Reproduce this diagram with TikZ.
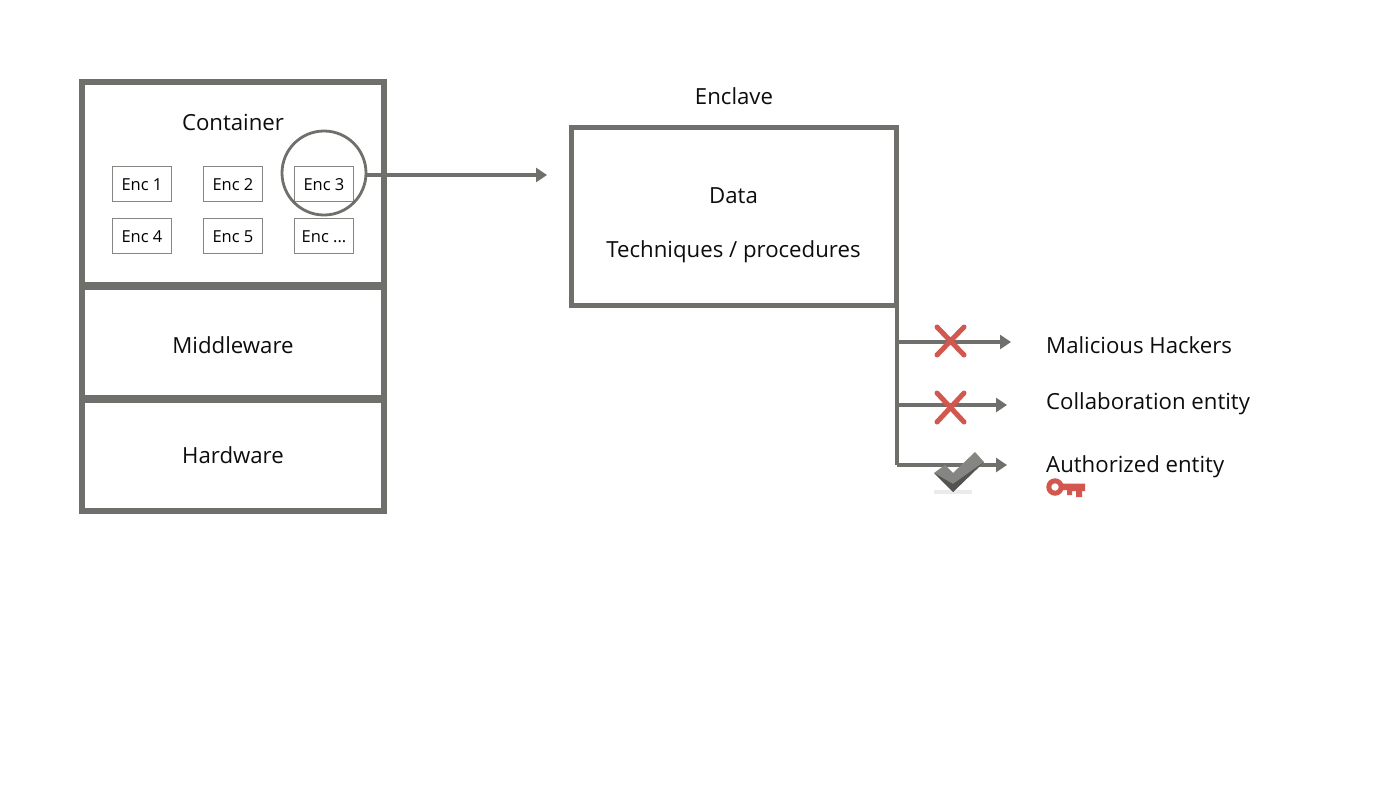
\documentclass[tikz,border=0pt]{standalone}
\usepackage{fontspec}
\setmainfont{Open Sans}
\usetikzlibrary{arrows.meta,positioning}
\definecolor{frame}{HTML}{6F706B}
\definecolor{redx}{HTML}{D2574E}
\tikzset{
  x=1pt,y=-1pt,
  panel/.style={draw=frame,line width=6pt,fill=white,outer sep=0pt,minimum width=302pt,inner sep=0pt,anchor=north west},
  encbox/.style={draw=frame!85,line width=1pt,fill=white,minimum width=59pt,minimum height=35pt,inner sep=0pt,text height=12.6pt,text depth=0pt,font=\fontsize{16.5}{18}\selectfont},
  lbl/.style={inner sep=0pt,font=\fontsize{22.2}{24}\selectfont,text=black!95},
  lblw/.style={lbl,anchor=west},
  conn/.style={draw=frame,line width=3.2pt},
  arrowc/.style={conn,-{Triangle[length=11pt,width=14pt]}},
  crossm/.style={draw=redx,line width=5pt,line cap=round}
}
\begin{document}
\begin{tikzpicture}
\useasboundingbox (0,0) rectangle (1400,788);
\fill[white] (0,0) rectangle (1400,788);
% stack
\node[panel,minimum height=203pt] (container) at (82,82) {};
\node[panel,minimum height=111pt] (middleware) at (82,287) {};
\node[panel,minimum height=111pt] (hardware) at (82,400) {};
\node[lbl] (tcontainer) at (233,122.5) {Container};
\node[lbl] (tmiddleware) at (233,345) {Middleware};
\node[lbl] (thardware) at (233,455) {Hardware};
% enclaves
\node[encbox] (e1) at (142,184) {Enc 1};
\node[encbox] (e2) at (233,184) {Enc 2};
\node[encbox] (e3) at (324,184) {Enc 3};
\node[encbox] (e4) at (142,236) {Enc 4};
\node[encbox] (e5) at (233,236) {Enc 5};
\node[encbox] (e6) at (324,236) {Enc ...};
\node[circle,draw=frame,line width=2.8pt,minimum size=84pt,inner sep=0pt,outer sep=0pt] (focus) at (324,173) {};
% enclave
\node[lbl] (tenclave) at (734,96) {Enclave};
\node[draw=frame,line width=5pt,fill=white,outer sep=0pt,minimum width=324.5pt,minimum height=178pt,inner sep=0pt,anchor=north west] (enclave) at (571.5,127.5) {};
\node[lbl] (tdata) at (733.5,195.5) {Data};
\node[lbl] (ttech) at (733.5,252) {Techniques / procedures};
\coordinate (arrowend) at (547,175);
\draw[arrowc] (focus.east |- arrowend) -- (arrowend);
% access lines
\coordinate (trunktop) at (897,305);
\coordinate (b1) at (897,342);
\coordinate (b2) at (897,405);
\coordinate (b3) at (897,465);
\coordinate (a1) at (1011,342);
\coordinate (a2) at (1007,405);
\coordinate (a3) at (1007,465);
\draw[conn] (trunktop) -- (b3);
\draw[arrowc] (b1) -- (a1);
\draw[arrowc] (b2) -- (a2);
\draw[arrowc] (b3) -- (a3);
\node[lblw] (t1) at (1046,345) {Malicious Hackers};
\node[lblw] (t2) at (1046,404) {Collaboration entity};
\node[lblw] (t3) at (1046,467) {Authorized entity};
% crosses
\draw[crossm] (937,327) -- (964,355) (964,327) -- (937,355);
\draw[crossm] (937,393) -- (964,422) (964,393) -- (937,422);
% check mark
\fill[black!8] (934,490) rectangle (972,494);
\fill[frame!85!white] (934,473) -- (945,465) -- (953,473) -- (975,452) -- (984,462) -- (953,492) -- cycle;
\fill[frame!75!black] (934,473) -- (953,484) -- (984,462) -- (953,492) -- cycle;
% key
\draw[redx,line width=5pt] (1055,487) circle (6.2);
\fill[redx] (1062,483.5) -- (1085,483.5) -- (1085,491) -- (1082,491) -- (1082,497) -- (1076,497) -- (1076,491) -- (1072,491) -- (1072,495) -- (1067,495) -- (1067,490) -- (1062,490) -- cycle;
\end{tikzpicture}
\end{document}
